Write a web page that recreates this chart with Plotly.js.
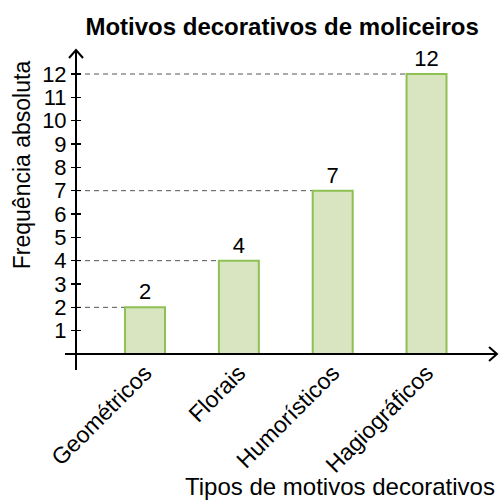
<!DOCTYPE html>
<html>
<head>
<meta charset="utf-8">
<script src="https://cdn.plot.ly/plotly-3.0.1.min.js"></script>
<style>html,body{margin:0;padding:0;background:#fff}#chart{width:502px;height:500px}</style>
</head>
<body>
<div id="chart"></div>
<script>
var categories = ["Geométricos", "Florais", "Humorísticos", "Hagiográficos"];
var values = [2, 4, 7, 12];
var yTicks = [1, 2, 3, 4, 5, 6, 7, 8, 9, 10, 11, 12];

var FONT = "Liberation Sans, Arial, sans-serif";
var barWidth = 0.426;
var xRange = [-0.906, 3.783];
var yRange = [-0.686, 13.03];
var yAxisPos = 0.0364;           // paper fraction where the y axis stands
var yAxisX = xRange[0] + yAxisPos * (xRange[1] - xRange[0]);

var trace = {
  type: "bar",
  x: categories.map(function(c, i){ return i; }),
  y: values,
  width: barWidth,
  text: values.map(String),
  textposition: "outside",
  textfont: {family: FONT, size: 22, color: "#000"},
  cliponaxis: false,
  marker: {color: "#d9e5c1", line: {color: "#8dc153", width: 2}},
  hoverinfo: "none"
};

var shapes = [];
values.forEach(function(v, i){
  shapes.push({
    type: "line", xref: "x", yref: "y", layer: "below",
    x0: yAxisX, x1: i - barWidth / 2, y0: v, y1: v,
    line: {color: "#555", width: 1, dash: "5px,4px"}
  });
});
// x axis line
shapes.push({type: "line", xref: "paper", yref: "y", x0: 0.0114, x1: 0.9932, y0: 0, y1: 0,
  line: {color: "#000", width: 2}});
// arrow heads
shapes.push({type: "path", xref: "paper", yref: "y", xsizemode: "pixel", ysizemode: "pixel",
  xanchor: 0.9932, yanchor: 0, path: "M-8,7 L0,0 L-8,-7", line: {color: "#000", width: 2}});
shapes.push({type: "path", xref: "paper", yref: "paper", xsizemode: "pixel", ysizemode: "pixel",
  xanchor: yAxisPos, yanchor: 1, path: "M-7,-8 L0,0 L7,-8", line: {color: "#000", width: 2}});

var layout = {
  width: 502, height: 500,
  margin: {l: 60, r: 2, t: 50, b: 130},
  paper_bgcolor: "#fff", plot_bgcolor: "rgba(0,0,0,0)",
  showlegend: false,
  font: {family: FONT, color: "#000"},
  title: {text: "<b>Motivos decorativos de moliceiros</b>", font: {family: FONT, size: 24, color: "#000"},
    xref: "container", x: 0.562, xanchor: "center", yref: "container", y: 0.947, yanchor: "middle"},
  xaxis: {
    range: xRange, tickmode: "array", tickvals: categories.map(function(c, i){ return i; }),
    ticktext: categories, tickangle: -45, ticks: "", showline: false, showgrid: false, zeroline: false,
    anchor: "free", position: 0.05, tickfont: {family: FONT, size: 23, color: "#000"}
  },
  yaxis: {
    range: yRange, tickmode: "array", tickvals: yTicks, ticktext: yTicks.map(String),
    ticks: "outside", ticklen: 4, tickwidth: 1.5, tickcolor: "#000",
    showline: true, linecolor: "#000", linewidth: 2, showgrid: false, zeroline: false,
    anchor: "free", position: yAxisPos, tickfont: {family: FONT, size: 22, color: "#000"}
  },
  yaxis2: {
    range: yRange, overlaying: "y", tickmode: "array", tickvals: yTicks,
    ticks: "inside", ticklen: 4, tickwidth: 1.5, tickcolor: "#000", showticklabels: false,
    showline: false, showgrid: false, zeroline: false, anchor: "free", position: yAxisPos
  },
  shapes: shapes,
  annotations: [
    {text: "Frequência absoluta", xref: "paper", yref: "paper", x: -0.0864, y: 0.643,
      xanchor: "center", yanchor: "middle", textangle: -90, showarrow: false,
      font: {family: FONT, size: 23, color: "#000"}},
    {text: "Tipos de motivos decorativos", xref: "paper", yref: "paper", x: 0.993, y: -0.3625,
      xanchor: "right", yanchor: "middle", showarrow: false,
      font: {family: FONT, size: 24, color: "#000"}}
  ]
};

Plotly.newPlot("chart", [trace, {type: "scatter", x: [], y: [], yaxis: "y2", hoverinfo: "none"}], layout,
  {staticPlot: true, displayModeBar: false});
</script>
</body>
</html>
